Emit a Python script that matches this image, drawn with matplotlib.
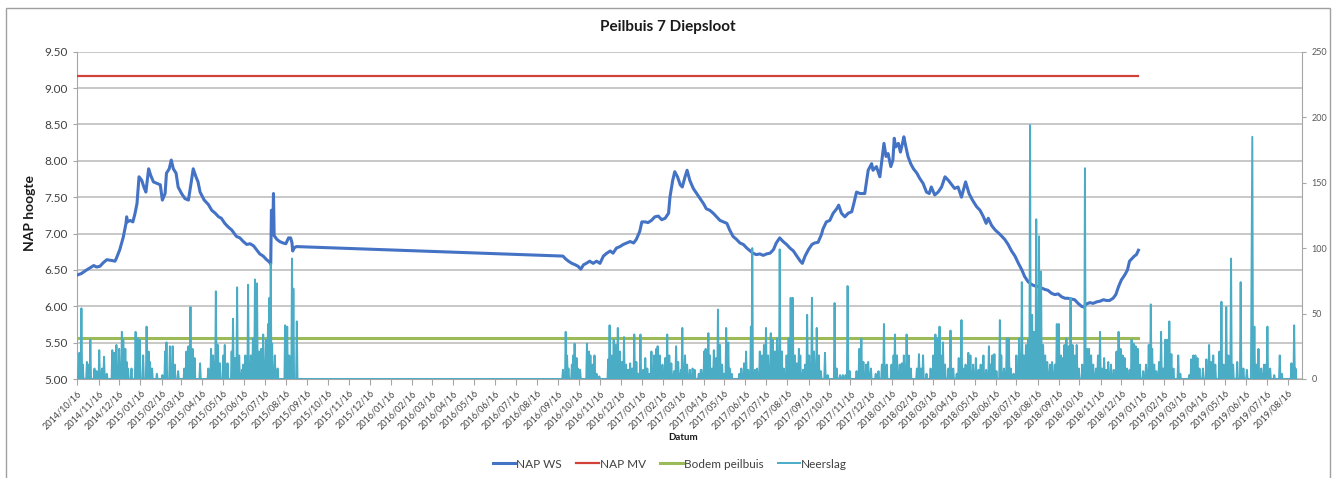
import numpy as np
import pandas as pd
import matplotlib
matplotlib.use('Agg')
import matplotlib.pyplot as plt
from matplotlib.patches import Rectangle

plt.rcParams['font.family'] = ['Lato', 'DejaVu Sans']

# start of the series, all days below are counted from here
start = np.datetime64('2014-10-16')

# measured water level (NAP WS), day number and level in m NAP
ws_dag = [0, 6, 12, 19, 24, 28, 33, 38, 43, 50, 55, 57, 62, 67, 71, 72, 73, 77, 81, 84,
          87, 90, 94, 97, 100, 104, 107, 111, 116, 121, 124, 128, 130, 134, 137, 140, 144,
          147, 152, 157, 162, 165, 169, 173, 176, 179, 185, 191, 196, 201, 206, 210, 215,
          220, 225, 232, 237, 242, 247, 252, 257, 262, 266, 271, 276, 280, 282, 283, 285,
          286, 287, 291, 295, 300, 304, 308, 311, 313, 314, 316, 319, 321,
          708, 712, 716, 721, 726, 730, 734, 738, 742, 747, 752, 757, 762, 767, 772, 777,
          781, 786, 791, 796, 801, 806, 811, 815, 820, 823, 828, 832, 837, 842, 847, 852,
          857, 862, 864, 868, 871, 875, 879, 882, 886, 889, 893, 898, 903, 908, 913, 917,
          922, 927, 932, 937, 942, 947, 951, 956, 961, 966, 971, 976, 981, 985, 990, 995,
          1000, 1005, 1010, 1015, 1019, 1024, 1029, 1034, 1039, 1044, 1049, 1054, 1057,
          1061, 1066, 1071, 1075, 1080, 1085, 1087, 1092, 1097, 1102, 1107, 1110, 1114,
          1119, 1124, 1129, 1132, 1136, 1141, 1148, 1153, 1158, 1160, 1165, 1170, 1173,
          1176, 1179, 1182, 1186, 1189, 1191, 1193, 1197, 1200, 1203, 1205, 1208, 1211,
          1215, 1219, 1224, 1228, 1233, 1238, 1242, 1245, 1250, 1255, 1260, 1265, 1270,
          1275, 1279, 1284, 1289, 1295, 1300, 1305, 1311, 1316, 1321, 1325, 1328, 1333,
          1338, 1345, 1352, 1357, 1362, 1367, 1372, 1377, 1381, 1386, 1391, 1396, 1401,
          1406, 1411, 1415, 1420, 1425, 1430, 1435, 1440, 1444, 1449, 1454, 1459, 1464,
          1467, 1471, 1476, 1481, 1486, 1491, 1496, 1500, 1505, 1510, 1514, 1518, 1522,
          1527, 1531, 1534, 1537, 1541, 1544, 1547]
ws_nap = [6.43, 6.45, 6.49, 6.53, 6.56, 6.54, 6.55, 6.60, 6.64, 6.63, 6.62, 6.66, 6.78,
          6.95, 7.14, 7.23, 7.16, 7.18, 7.16, 7.27, 7.41, 7.78, 7.73, 7.64, 7.57, 7.89,
          7.80, 7.71, 7.69, 7.67, 7.46, 7.55, 7.83, 7.89, 8.01, 7.89, 7.83, 7.64, 7.55,
          7.48, 7.46, 7.64, 7.89, 7.78, 7.71, 7.57, 7.46, 7.40, 7.32, 7.28, 7.23, 7.21,
          7.14, 7.09, 7.05, 6.96, 6.94, 6.89, 6.85, 6.86, 6.83, 6.77, 6.72, 6.69, 6.64,
          6.61, 6.58, 7.32, 7.05, 7.55, 6.97, 6.92, 6.89, 6.87, 6.86, 6.94, 6.94, 6.87,
          6.76, 6.80, 6.82, 6.82,
          6.69, 6.65, 6.62, 6.59, 6.57, 6.55, 6.51, 6.57, 6.59, 6.62, 6.59, 6.62, 6.59,
          6.69, 6.73, 6.76, 6.73, 6.80, 6.82, 6.85, 6.87, 6.89, 6.87, 6.92, 7.03, 7.16,
          7.16, 7.15, 7.18, 7.23, 7.24, 7.19, 7.21, 7.28, 7.50, 7.73, 7.85, 7.78, 7.67,
          7.64, 7.78, 7.87, 7.73, 7.62, 7.55, 7.48, 7.41, 7.34, 7.32, 7.28, 7.23, 7.18,
          7.16, 7.14, 7.05, 6.96, 6.92, 6.87, 6.85, 6.80, 6.76, 6.73, 6.71, 6.72, 6.70,
          6.72, 6.73, 6.78, 6.87, 6.94, 6.89, 6.85, 6.80, 6.76, 6.69, 6.62, 6.59, 6.69,
          6.78, 6.85, 6.87, 6.88, 6.99, 7.06, 7.16, 7.18, 7.28, 7.34, 7.39, 7.28, 7.23,
          7.28, 7.30, 7.41, 7.57, 7.55, 7.55, 7.87, 7.96, 7.87, 7.92, 7.78, 8.01, 8.24,
          8.06, 8.10, 7.92, 8.01, 8.31, 8.19, 8.24, 8.12, 8.24, 8.33, 8.19, 8.06, 7.96,
          7.89, 7.83, 7.76, 7.69, 7.57, 7.55, 7.64, 7.53, 7.57, 7.64, 7.78, 7.73, 7.67,
          7.62, 7.64, 7.50, 7.71, 7.55, 7.46, 7.37, 7.32, 7.23, 7.14, 7.21, 7.11, 7.05,
          6.99, 6.92, 6.85, 6.76, 6.69, 6.59, 6.50, 6.41, 6.34, 6.30, 6.28, 6.27, 6.25,
          6.23, 6.22, 6.18, 6.16, 6.17, 6.13, 6.11, 6.11, 6.10, 6.09, 6.04, 6.00, 5.99,
          6.03, 6.05, 6.04, 6.06, 6.07, 6.09, 6.08, 6.08, 6.11, 6.16, 6.27, 6.36, 6.43,
          6.50, 6.62, 6.65, 6.69, 6.71, 6.77]

# ground level and bottom of the tube, constant over the measuring period
mv_nap = 9.16
bodem_nap = 5.56

# daily precipitation in mm, only the wet days are listed
neerslag_dag = [2, 3, 6, 8, 14, 16, 19, 25, 28, 32, 36, 39, 43, 51, 54, 57, 61, 65, 67, 70,
                72, 74, 79, 85, 88, 91, 96, 101, 104, 106, 109, 116, 124, 128, 130, 135, 139,
                142, 147, 156, 159, 162, 165, 168, 171, 179, 191, 195, 198, 202, 205, 208,
                213, 215, 219, 225, 227, 230, 233, 236, 240, 242, 245, 249, 253, 256, 259,
                262, 265, 268, 271, 275, 278, 280, 282, 284, 288, 292, 303, 306, 309, 313,
                315, 320,
                708, 712, 714, 716, 721, 723, 725, 728, 730, 733, 743, 746, 748, 751, 754,
                757, 761, 774, 776, 779, 782, 785, 788, 791, 794, 797, 800, 803, 806, 809,
                812, 815, 818, 821, 825, 828, 831, 834, 837, 841, 844, 846, 849, 853, 857,
                860, 863, 866, 870, 873, 876, 880, 882, 886, 889, 893, 897, 900, 906, 909,
                910, 914, 916, 920, 922, 925, 928, 931, 934, 937, 940, 943, 946, 949, 951,
                954, 965, 968, 972, 975, 978, 982, 984, 988, 991, 995, 998, 1001, 1004, 1007,
                1011, 1014, 1017, 1020, 1022, 1024, 1027, 1030, 1034, 1037, 1040, 1043, 1046,
                1049, 1052, 1054, 1058, 1061, 1064, 1067, 1071, 1074, 1078, 1081, 1084, 1090,
                1094, 1104, 1107, 1112, 1116, 1120, 1123, 1126,
                1136, 1140, 1143, 1146, 1150, 1153, 1157, 1164, 1168, 1173, 1176, 1180, 1187,
                1190, 1192, 1195, 1199, 1202, 1205, 1209, 1212, 1215, 1224, 1227, 1230, 1233,
                1238, 1244, 1248, 1251, 1254, 1257, 1259, 1262, 1265, 1270, 1273, 1277, 1282,
                1285, 1289, 1292, 1295, 1299, 1302, 1306, 1310, 1314, 1317, 1321, 1325, 1329,
                1331, 1334, 1337, 1340, 1345,
                1347, 1351, 1355, 1358, 1361, 1365, 1369, 1373, 1377, 1380, 1383, 1386, 1389,
                1392, 1395, 1398, 1400, 1402, 1405, 1408, 1411, 1414, 1418, 1421, 1425, 1428,
                1431, 1434, 1436, 1439, 1442, 1445, 1448, 1451, 1454, 1457, 1460, 1465, 1469,
                1472, 1475, 1478, 1481, 1485, 1488, 1491, 1494, 1497, 1500, 1503, 1507, 1511,
                1515, 1518, 1521, 1524, 1527, 1530, 1534, 1537, 1540, 1543, 1546, 1549, 1554,
                1558, 1562, 1565,
                1567, 1570, 1573, 1577, 1580, 1583, 1586, 1589, 1592, 1595, 1598, 1605, 1608,
                1621, 1624, 1627, 1630, 1633, 1636, 1641, 1646, 1650, 1653, 1656, 1659, 1665,
                1668, 1671, 1675, 1678, 1682, 1685, 1691, 1696, 1700, 1705, 1712, 1713, 1716,
                1719, 1722, 1726, 1730, 1733, 1735, 1739, 1745, 1753, 1756, 1770, 1774, 1776]
neerslag_mm = [11, 20, 54, 11, 13, 11, 30, 8, 6, 22, 8, 17, 4, 22, 20, 26, 23, 36, 30, 23,
               13, 8, 8, 36, 31, 30, 18, 40, 21, 13, 8, 4, 3, 21, 28, 25, 25,
               11, 6, 8, 21, 25, 55, 23, 16, 12, 8, 23, 18, 67, 26, 12,
               18, 26, 12, 21, 46, 16, 70, 18, 7, 11, 18, 72, 18, 31, 76,
               73, 21, 23, 34, 30, 42, 62, 88, 27, 18, 8, 41, 40, 18, 92,
               69, 44,
               7, 36, 18, 8, 11, 18, 27, 16, 8, 7, 27, 21, 18, 11, 18,
               4, 2, 15, 41, 18, 30, 26, 39, 21, 13, 32, 11, 7, 12, 8,
               34, 13, 4, 34, 7, 16, 8, 4, 21, 18, 23, 25, 18, 11, 16,
               34, 18, 12, 6, 25, 13, 7, 39, 18, 11, 7, 8, 7, 4, 7,
               7, 21, 23, 35, 18, 8, 22, 16, 53, 26, 11, 4, 39, 28, 8,
               4, 4, 8, 12, 21, 7, 40, 100, 7, 8, 21, 18, 26, 39, 18,
               35, 30, 21, 31, 18, 99, 21, 8, 18, 31, 62, 62, 18,
               12, 23, 18, 7, 11, 49, 18, 62, 21, 39, 18, 6, 20,
               3, 58, 8, 3, 3, 3, 71, 6,
               6, 23, 31, 13, 11, 13, 8, 4, 6, 11, 42, 11, 11,
               18, 34, 18, 11, 12, 18, 34, 18, 8, 8, 19, 8, 18,
               4, 8, 18, 34, 31, 40, 18, 28, 11, 8, 37, 8, 4,
               16, 45, 8, 11, 20, 18, 11, 16, 7, 11, 18, 7, 25,
               11, 18, 19, 6, 45,
               18, 8, 31, 31, 8, 4, 18, 31, 74, 18, 26, 30, 194,
               49, 36, 122, 36, 109, 82, 26, 18, 13, 11, 13, 11, 42,
               42, 18, 16, 26, 31, 25, 62, 26, 18, 26, 8, 11, 161,
               23, 23, 18, 11, 8, 18, 36, 8, 16, 7, 13, 11, 7,
               21, 36, 23, 18, 16, 8, 7, 30, 27, 25, 23, 11, 6,
               11, 26, 57,
               23, 11, 6, 13, 36, 8, 30, 30, 44, 19, 8, 18, 4,
               3, 15, 18, 18, 16, 8, 8, 15, 26, 13, 18, 11, 21,
               59, 11, 55, 18, 92, 11, 13, 74, 8, 7, 89, 185, 40,
               11, 23, 8, 11, 11, 40, 8, 3, 18, 4, 12, 41, 8]

# axis range and the monthly ticks on the 16th
x_einde = 1785
tick_datums = pd.date_range('2014-10-16', '2019-08-16', freq=pd.DateOffset(months=1))

# colours of the four series
kleur_ws = '#4472C4'
kleur_mv = '#D2403A'
kleur_bodem = '#9BBB59'
kleur_regen = '#4BACC6'

W, H = 1338, 478
fig = plt.figure(figsize=(W / 100, H / 100), dpi=100)
ax = fig.add_axes([77.3 / W, 1 - 379 / H, (1301.7 - 77.3) / W, (379 - 51.7) / H])
ax2 = ax.twinx()

dagen = lambda d: start + np.asarray(d).astype('timedelta64[D]')

# water level, ground level and tube bottom on the left axis
ws_x = dagen(ws_dag)
l_ws, = ax.plot(ws_x, ws_nap, color=kleur_ws, lw=2.2, solid_joinstyle='round',
                label='NAP WS', zorder=3)
periode = dagen([0, ws_dag[-1]])
l_mv, = ax.plot(periode, [mv_nap, mv_nap], color=kleur_mv, lw=1.6, label='NAP MV', zorder=3)
l_bodem, = ax.plot(periode, [bodem_nap, bodem_nap], color=kleur_bodem, lw=2.2,
                   label='Bodem peilbuis', zorder=3)

# precipitation as a daily line on the right axis (dry days are 0 mm)
regen_dag = np.arange(0, max(neerslag_dag) + 2)
regen = np.zeros(len(regen_dag))
regen[neerslag_dag] = neerslag_mm
l_regen, = ax2.plot(dagen(regen_dag), regen, color=kleur_regen, lw=1.4, label='Neerslag')

# axes
ax.set_xlim(start, start + np.timedelta64(x_einde, 'D'))
ax.set_ylim(5, 9.5)
ax.set_yticks(np.arange(5, 9.51, 0.5))
ax.set_yticklabels(['{:.2f}'.format(v) for v in np.arange(5, 9.51, 0.5)])
ax2.set_ylim(0, 250)
ax2.set_yticks(np.arange(0, 251, 50))

ax.set_xticks(tick_datums)
ax.set_xticklabels([d.strftime('%Y/%m/%d') for d in tick_datums], rotation=45,
                   ha='right', rotation_mode='anchor')

ax.grid(axis='y', color='#BFBFBF', lw=1.2)
ax.set_axisbelow(True)

for s in ['top', 'right']:
    ax.spines[s].set_visible(False)
for s in ['top', 'left', 'bottom']:
    ax2.spines[s].set_visible(False)
ax.spines['left'].set_color('#A6A6A6')
ax.spines['bottom'].set_color('#A6A6A6')
ax2.spines['right'].set_color('#A6A6A6')

ax.tick_params(axis='x', length=4, color='#A6A6A6', labelsize=6.5, labelcolor='#404040', pad=3)
ax.tick_params(axis='y', length=3, color='#A6A6A6', labelsize=8.5, labelcolor='#404040', pad=4)
ax2.tick_params(axis='y', length=3, color='#A6A6A6', labelsize=6.5, labelcolor='#595959', pad=4)

# texts
fig.text(668 / W, 1 - 27 / H, 'Peilbuis 7 Diepsloot', ha='center', va='center',
         fontsize=11, fontweight='bold', color='#1a1a1a')
fig.text(30 / W, 1 - 213 / H, 'NAP hoogte', ha='center', va='center', rotation=90,
         fontsize=10, fontweight='bold', color='#1a1a1a')
fig.text(683 / W, 1 - 437 / H, 'Datum', ha='center', va='center',
         fontsize=7, fontweight='bold', color='#1a1a1a')

leg = fig.legend(handles=[l_ws, l_mv, l_bodem, l_regen], loc='center',
                 bbox_to_anchor=(670 / W, 1 - 464 / H), ncol=4, frameon=False,
                 fontsize=8.5, handlelength=1.9, handletextpad=0.1, columnspacing=1.2)
for t in leg.get_texts():
    t.set_color('#404040')

# chart border
fig.add_artist(Rectangle((6.5 / W, -0.05), (1330 - 6.5) / W, 1.05 - 8 / H,
                         transform=fig.transFigure, fill=False, edgecolor='#A0A0A0', lw=1))

fig.savefig('out.png', dpi=100)
